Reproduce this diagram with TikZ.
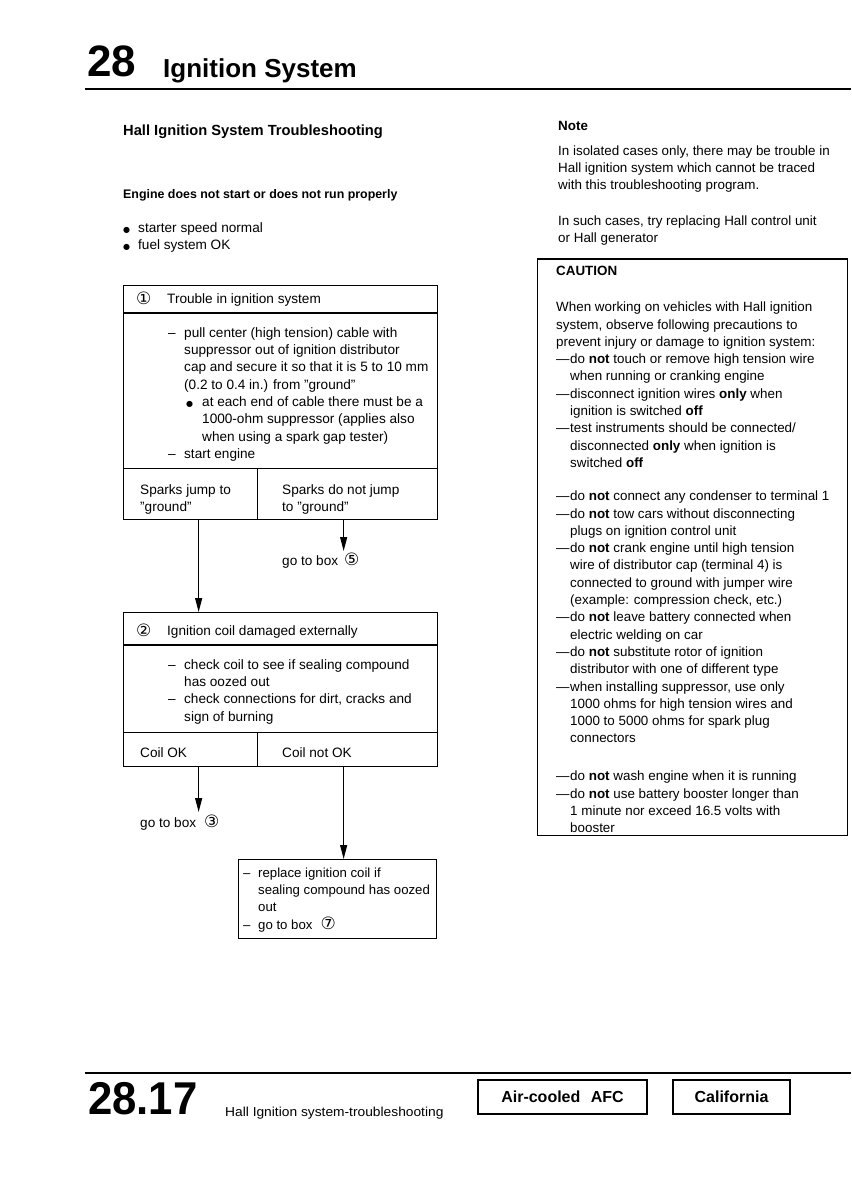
\documentclass[tikz,border=0pt]{standalone}
\usepackage{graphicx}
\usepackage{fontspec}
\setmainfont{Liberation Sans}
\newfontfamily\dejavu{DejaVu Sans}
\usetikzlibrary{arrows.meta,calc}
\newcommand\tstrut{\rule{0pt}{10pt}}
\newcommand\bxdash{\makebox[16pt][l]{–}}
\newcommand\bxind{\hspace*{16pt}}
\newcommand\cvdash{\makebox[14pt][l]{—}}
\newcommand\cvind{\hspace*{14pt}}
\newcommand\bigdot{{\dejavu\fontsize{8}{8}\selectfont ●}}
\newcommand\circnum[1]{{\dejavu\fontsize{17}{17}\selectfont #1}}
\tikzset{
  bx/.style={draw, line width=1.3pt, inner sep=0pt, anchor=north west},
  txt/.style={anchor=north west, inner sep=0pt, align=left, font=\fontsize{13.6}{17.3}\selectfont},
  rtxt/.style={anchor=north west, inner sep=0pt, align=left, font=\fontsize{13.4}{17.3}\selectfont},
  one/.style={anchor=base west, inner sep=0pt, font=\fontsize{13.6}{13.6}\selectfont},
  cnum/.style={anchor=base west, inner sep=0pt, font=\dejavu\fontsize{17}{17}\selectfont},
  arr/.style={line width=1.2pt, -{Triangle[length=14pt,width=7pt]}},
  rulestyle/.style={line width=2pt},
  fbox/.style={draw, line width=1.2pt, inner sep=0pt, minimum height=34pt, font=\fontsize{16}{16}\selectfont\bfseries}
}
\begin{document}
\begin{tikzpicture}[x=1pt,y=-1pt]
\fill[white] (0,0) rectangle (851,1185);
\useasboundingbox (0,0) rectangle (851,1185);

% header
\node[one, font=\fontsize{44}{44}\selectfont\bfseries] (chap) at (87,77) {28};
\node[one, font=\fontsize{26}{26}\selectfont\bfseries] (chaptitle) at (163,78) {Ignition System};
\draw[rulestyle] (85,89) -- (851,89);

% left intro
\node[one, font=\fontsize{14.7}{14.7}\selectfont\bfseries] (htitle) at (123,136) {Hall Ignition System Troubleshooting};
\node[one, font=\fontsize{12.4}{12.4}\selectfont\bfseries] (engine) at (123,198) {Engine does not start or does not run properly};
\node[txt] (bullets) at (123,222) {\tstrut\makebox[15pt][l]{\bigdot}starter speed normal\\\makebox[15pt][l]{\bigdot}fuel system OK};

% box 1
\node[bx, minimum width=314pt, minimum height=234pt] (box1) at (123,285) {};
\draw[line width=1.3pt] (123,313) -- (437,313);
\node[cnum] (c1) at (136,304) {①};
\node[one] (t1) at (167,303) {Trouble in ignition system};
\node[txt] (body1) at (168,327) {\tstrut\bxdash pull center (high tension) cable with\\
\bxind suppressor out of ignition distributor\\
\bxind cap and secure it so that it is 5 to 10 mm\\
\bxind (0.2 to 0.4 in.) from ''ground''\\
\hspace*{18pt}\makebox[16pt][l]{\bigdot}at each end of cable there must be a\\
\hspace*{34pt}1000-ohm suppressor (applies also\\
\hspace*{34pt}when using a spark gap tester)\\
\bxdash start engine};
\node[bx, minimum width=134pt, minimum height=51pt] (b1yes) at (123,468) {};
\node[bx, minimum width=180pt, minimum height=51pt] (b1no) at (257,468) {};
\node[txt] (b1yestext) at (140,484) {\tstrut Sparks jump to\\''ground''};
\node[txt] (b1notext) at (282,484) {\tstrut Sparks do not jump\\to ''ground''};

\node[one] (goto5) at (282,565) {go to box\hspace{6pt}\circnum{⑤}};
\draw[arr] ([xshift=8pt]b1yes.south) -- ([xshift=8pt]b1yes.south |- 0,612);

% box 2
\node[bx, minimum width=314pt, minimum height=154pt] (box2) at (123,612) {};
\draw[arr] ([xshift=-4pt]b1no.south) -- ([xshift=-4pt]b1no.south |- 0,551);
\draw[line width=1.3pt] (123,645) -- (437,645);
\node[cnum] (c2) at (136,636) {②};
\node[one] (t2) at (167,635) {Ignition coil damaged externally};
\node[txt] (body2) at (168,659) {\tstrut\bxdash check coil to see if sealing compound\\
\bxind has oozed out\\
\bxdash check connections for dirt, cracks and\\
\bxind sign of burning};
\node[bx, minimum width=134pt, minimum height=34pt] (b2yes) at (123,732) {};
\node[bx, minimum width=180pt, minimum height=34pt] (b2no) at (257,732) {};
\node[one] (b2yestext) at (140,757) {Coil OK};
\node[one] (b2notext) at (282,757) {Coil not OK};

\node[one] (goto3) at (140,827) {go to box\hspace{8pt}\circnum{③}};
\draw[arr] ([xshift=8pt]b2yes.south) -- ([xshift=8pt]b2yes.south |- 0,812);

% box 3
\node[bx, minimum width=198pt, minimum height=79pt] (box3) at (238,859) {};
\draw[arr] ([xshift=-4pt]b2no.south) -- ([xshift=-4pt]b2no.south |- box3.north);
\node[txt, font=\fontsize{13.2}{17.3}\selectfont] (body3) at (243,867) {\tstrut\makebox[15pt][l]{–}replace ignition coil if\\
\hspace*{15pt}sealing compound has oozed\\
\hspace*{15pt}out\\
\makebox[15pt][l]{–}go to box\hspace{8pt}\circnum{⑦}};

% right column
\node[one, font=\fontsize{13.4}{13.4}\selectfont\bfseries] (note) at (558,131) {Note};
\node[rtxt] (note1) at (558,145) {\tstrut In isolated cases only, there may be trouble in\\
Hall ignition system which cannot be traced\\
with this troubleshooting program.};
\node[rtxt] (note2) at (558,215) {\tstrut In such cases, try replacing Hall control unit\\
or Hall generator};

\node[draw, line width=1pt, inner sep=0pt, anchor=north west, minimum width=310pt, minimum height=576pt] (caution) at (537,259) {};
\draw[line width=2pt] (caution.north west) -- (caution.north east);
\node[one, font=\fontsize{13.4}{13.4}\selectfont\bfseries] (cautiontitle) at (556,275) {CAUTION};
\node[rtxt] (cauA) at (556,301.5) {\tstrut When working on vehicles with Hall ignition\\
system, observe following precautions to\\
prevent injury or damage to ignition system:\\
\cvdash do \textbf{not} touch or remove high tension wire\\
\cvind when running or cranking engine\\
\cvdash disconnect ignition wires \textbf{only} when\\
\cvind ignition is switched \textbf{off}\\
\cvdash test instruments should be connected/\\
\cvind disconnected \textbf{only} when ignition is\\
\cvind switched \textbf{off}};
\node[rtxt] (cauB) at (556,490.5) {\tstrut\cvdash do \textbf{not} connect any condenser to terminal 1\\
\cvdash do \textbf{not} tow cars without disconnecting\\
\cvind plugs on ignition control unit\\
\cvdash do \textbf{not} crank engine until high tension\\
\cvind wire of distributor cap (terminal 4) is\\
\cvind connected to ground with jumper wire\\
\cvind (example: compression check, etc.)\\
\cvdash do \textbf{not} leave battery connected when\\
\cvind electric welding on car\\
\cvdash do \textbf{not} substitute rotor of ignition\\
\cvind distributor with one of different type\\
\cvdash when installing suppressor, use only\\
\cvind 1000 ohms for high tension wires and\\
\cvind 1000 to 5000 ohms for spark plug\\
\cvind connectors};
\node[rtxt] (cauC) at (556,770.5) {\tstrut\cvdash do \textbf{not} wash engine when it is running\\
\cvdash do \textbf{not} use battery booster longer than\\
\cvind 1 minute nor exceed 16.5 volts with\\
\cvind booster};

% footer
\draw[rulestyle] (85,1073) -- (851,1073);
\node[one, font=\fontsize{46}{46}\selectfont\bfseries] (page) at (88,1114) {\scalebox{0.95}[1]{28.17}};
\node[one, font=\fontsize{13}{13}\selectfont] (pagetitle) at (225,1116) {\scalebox{1.06}[1]{Hall Ignition system-troubleshooting}};
\node[fbox, minimum width=169pt] (afc) at (562.5,1097) {Air-cooled\hspace{6pt} AFC};
\node[fbox, minimum width=117pt] (cal) at (731.5,1097) {California};
\end{tikzpicture}
\end{document}
